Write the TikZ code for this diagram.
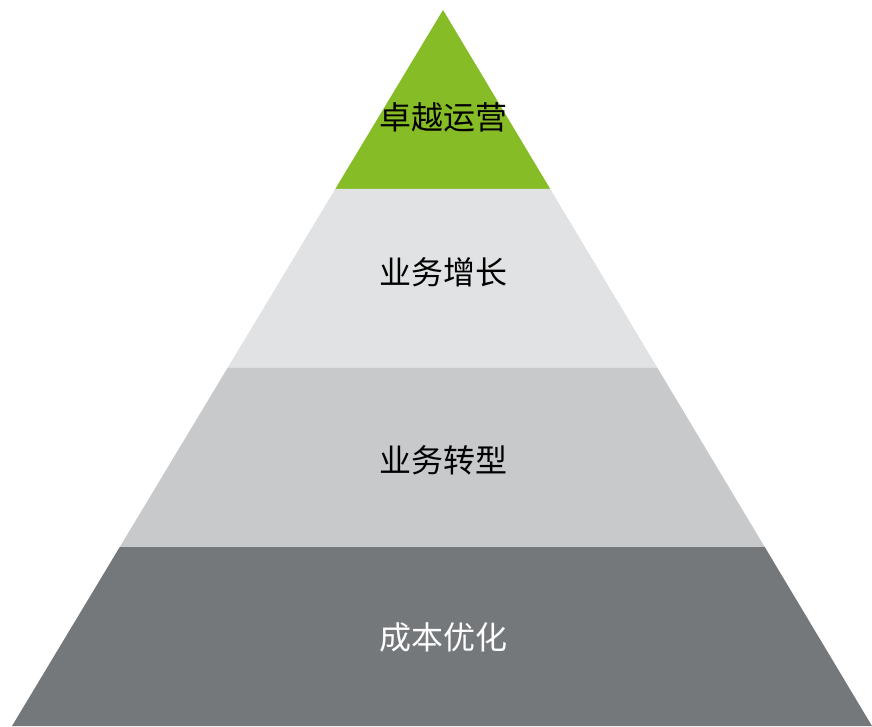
\documentclass[tikz,border=0pt]{standalone}
\usepackage{xcolor}
\usepackage{fontspec}
\newfontfamily\cjk{Noto Sans CJK SC}
\usepackage{tikz}
\usetikzlibrary{calc}

\definecolor{layergreen}{HTML}{86BC25}
\definecolor{layerlight}{HTML}{E1E2E3}
\definecolor{layermid}{HTML}{C8C9CB}
\definecolor{layerdark}{HTML}{75787B}

\tikzset{layertext/.style={font=\cjk\fontsize{32}{38}\selectfont, text=black}}

\begin{document}
\begin{tikzpicture}[x=1pt, y=1pt]
    \useasboundingbox (0,0) rectangle (872,726);
    \coordinate (apex) at (443,716);
    \coordinate (bl) at (12,0);
    \coordinate (br) at (872,0);
    \foreach \i/\t in {1/0.25, 2/0.5, 3/0.75} {
        \coordinate (l\i) at ($(apex)!\t!(bl)$);
        \coordinate (r\i) at ($(apex)!\t!(br)$);
    }

    \fill [layergreen] (apex) -- (l1) -- (r1) -- cycle;
    \fill [layerlight] (l1) -- (l2) -- (r2) -- (r1) -- cycle;
    \fill [layermid] (l2) -- (l3) -- (r3) -- (r2) -- cycle;
    \fill [layerdark] (l3) -- (bl) -- (br) -- (r3) -- cycle;

    \node (excellence) [layertext] at (443,609) {卓越运营};
    \node (growth) [layertext] at (443,454) {业务增长};
    \node (transform) [layertext] at (443,266) {业务转型};
    \node (cost) [layertext, text=white] at (443,89) {成本优化};
\end{tikzpicture}
\end{document}
